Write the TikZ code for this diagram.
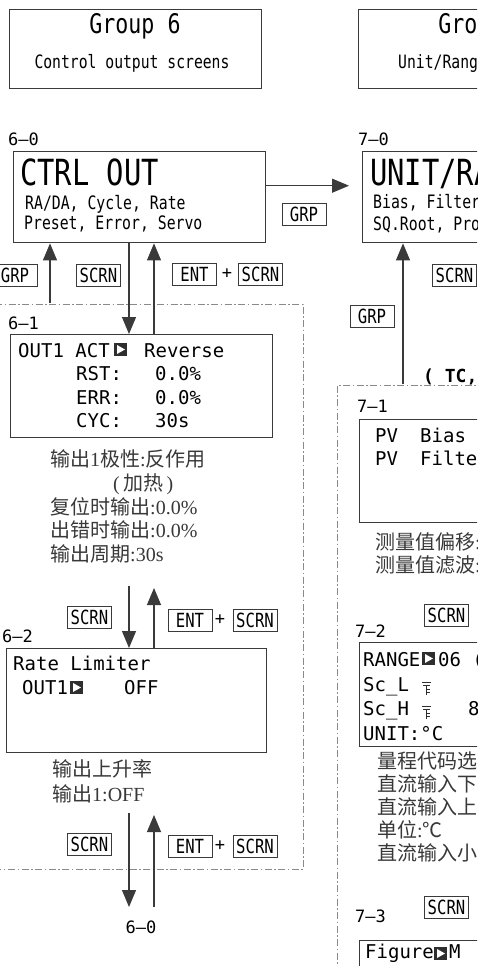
\documentclass[tikz,border=0pt]{standalone}
\usepackage{fontspec}
\setmainfont{Liberation Serif}
\newfontfamily\lcd{DejaVu Sans Mono}
\newfontfamily\lcdn[FakeStretch=0.8]{DejaVu Sans Mono}
\newfontfamily\cjk{Noto Sans CJK SC}
\usetikzlibrary{arrows.meta,positioning}
\definecolor{ink}{HTML}{2E2E2E}
\definecolor{edge}{HTML}{3A3A3A}
\definecolor{chain}{HTML}{8A8A8A}

\begin{document}
\begin{tikzpicture}[
  x=1pt, y=-1pt,
  screen/.style={draw=edge, line width=1.4pt, anchor=north west, inner sep=0pt},
  head/.style={anchor=base, inner sep=0pt, font=\lcdn\fontsize{27}{27}\selectfont},
  sub/.style={anchor=base, inner sep=0pt, font=\lcdn\fontsize{18.4}{18}\selectfont},
  tag/.style={anchor=base west, inner sep=0pt, font=\lcd\fontsize{17}{17}\selectfont},
  big/.style={anchor=base west, inner sep=0pt, font=\lcdn\fontsize{36}{36}\selectfont},
  note/.style={anchor=base west, inner sep=0pt, font=\lcdn\fontsize{18.5}{18}\selectfont},
  lcdline/.style={anchor=base west, inner sep=0pt, font=\lcd\fontsize{19}{19}\selectfont},
  zh/.style={anchor=base west, inner sep=0pt, text=black!78, font=\fontsize{20}{20}\selectfont},
  key/.style={draw=edge, line width=0.8pt, inner xsep=2pt, inner ysep=0pt,
              minimum width=44pt, minimum height=22pt,
              font=\lcdn\fontsize{19.5}{19.5}\selectfont},
  plus/.style={inner sep=0pt, font=\lcd\fontsize{17}{17}\selectfont},
  arrow/.style={draw=edge, line width=1.2pt, -{Triangle[length=17pt,width=14pt]}},
  chainline/.style={draw=chain, line width=0.9pt,
                    dash pattern=on 7pt off 2.5pt on 1.5pt off 2.5pt},
  cursor/.pic={\fill[ink] (0,0) rectangle (13,13);
               \fill[white] (3,2) -- (11,6.5) -- (3,11) -- cycle;},
  probe/.pic={\draw[ink, line width=0.9pt] (0,0) -- (9,0) (1,3) -- (8,3)
               (4.5,3) -- (4.5,13) (4.5,7) -- (7.5,7) (4.5,10) -- (7.5,10);}
]
\useasboundingbox (0,0) rectangle (477,966);
\clip (0,0) rectangle (477,966);

% Group headers
\node[screen, minimum width=252pt, minimum height=79pt] (g6) at (9,9) {};
\node[head] (g6h) at (135,34) {Group 6};
\node[sub]  (g6s) at (132,69) {Control output screens};
\node[screen, minimum width=252pt, minimum height=79pt] (g7) at (358,9) {};
\node[head] (g7h) at (484,34) {Group 7};
\node[sub]  (g7s) at (478,69) {Unit/Range screens};

% Group boundaries
\draw[chainline] (-5,304) -| (303,869) -- (-5,869);
\draw[chainline] (485,385) -| (337,975);

% 6-0
\node[tag] (l60) at (8,145) {6–0};
\node[screen, minimum width=252pt, minimum height=91pt] (s60) at (13,151) {};
\node[big]  (s60a) at (20,185) {CTRL OUT};
\node[note] (s60b) at (25,209) {RA/DA, Cycle, Rate};
\node[note] (s60c) at (24,229) {Preset, Error, Servo};

% 7-0
\node[tag] (l70) at (358,145) {7–0};
\node[screen, minimum width=252pt, minimum height=91pt] (s70) at (362,151) {};
\node[big]  (s70a) at (370,185) {UNIT/RANGE};
\node[note] (s70b) at (373,208) {Bias, Filter};
\node[note] (s70c) at (373,230) {SQ.Root, Pro};

% 6-1
\node[tag] (l61) at (8,329) {6–1};
\node[screen, minimum width=262pt, minimum height=103pt] (s61) at (10,334) {};
\node[lcdline] (s61a) at (18,357) {OUT1 ACT};
\pic at (114,343) {cursor};
\node[lcdline] (s61b) at (144,357) {Reverse};
\foreach \k/\v/\y in {RST:/0.0\%/380, ERR:/0.0\%/404, CYC:/30s/427} {
  \node[lcdline] (s61k\y) at (76,\y) {\k};
  \node[lcdline] (s61v\y) at (155,\y) {\v};
}
\node[zh] (z61a) at (50,466) {{\cjk 输出}1{\cjk 极性}:{\cjk 反作用}};
\node[zh] (z61b) at (113,490) {(\,{\cjk 加热}\,)};
\node[zh] (z61c) at (50,514) {{\cjk 复位时输出}:0.0\%};
\node[zh] (z61d) at (50,537) {{\cjk 出错时输出}:0.0\%};
\node[zh] (z61e) at (50,561) {{\cjk 输出周期}:30s};

% 6-2
\node[tag] (l62) at (2,642) {6–2};
\node[screen, minimum width=260pt, minimum height=104pt] (s62) at (6,648) {};
\node[lcdline] (s62a) at (13,670) {Rate Limiter};
\node[lcdline] (s62b) at (22,694) {OUT1};
\pic at (70,681) {cursor};
\node[lcdline] (s62c) at (124,694) {OFF};
\node[zh] (z62a) at (52,776) {\cjk 输出上升率};
\node[zh] (z62b) at (52,801) {{\cjk 输出}1:OFF};

% 7-1
\node[tag] (l71) at (357,412) {7–1};
\node[screen, minimum width=262pt, minimum height=103pt] (s71) at (359,419) {};
\node[lcdline] (s71a) at (375,442) {PV};
\node[lcdline] (s71b) at (420,442) {Bias};
\node[lcdline] (s71c) at (375,465) {PV};
\node[lcdline] (s71d) at (420,465) {Filter};
\node[zh] (z71a) at (375,549) {{\cjk 测量值偏移}:};
\node[zh] (z71b) at (375,572) {{\cjk 测量值滤波}:};

% 7-2
\node[tag] (l72) at (355,637) {7–2};
\node[screen, minimum width=262pt, minimum height=104pt] (s72) at (359,642) {};
\node[lcdline] (s72a) at (363,666) {RANGE};
\pic at (422,652) {cursor};
\node[lcdline] (s72b) at (438,666) {06 (};
\node[lcdline] (s72c) at (363,691) {Sc\_L};
\pic at (422,682) {probe};
\node[lcdline] (s72d) at (363,715) {Sc\_H};
\pic at (422,706) {probe};
\node[lcdline] (s72e) at (468,715) {8};
\node[lcdline] (s72f) at (363,740) {UNIT:°C};
\node[zh] (z72a) at (377,768) {\cjk 量程代码选};
\node[zh] (z72b) at (377,791) {\cjk 直流输入下};
\node[zh] (z72c) at (377,814) {\cjk 直流输入上};
\node[zh] (z72d) at (377,837) {{\cjk 单位}:{\cjk ℃}};
\node[zh] (z72e) at (377,860) {\cjk 直流输入小};

% 7-3
\node[tag] (l73) at (355,922) {7–3};
\node[screen, minimum width=262pt, minimum height=60pt] (s73) at (359,940) {};
\node[lcdline] (s73a) at (365,958) {Figure};
\pic at (434,947) {cursor};
\node[lcdline] (s73b) at (449,958) {M};

% Keys
\node[key] (k1) at (15,275) {GRP};
\node[key] (k2) at (98.5,275) {SCRN};
\node[key] (k3) at (194.5,274) {ENT};
\node[plus] (p1) at (227,274) {+};
\node[key] (k4) at (260.5,274) {SCRN};
\node[key] (k5) at (304,214) {GRP};
\node[key] (k6) at (454.5,275) {SCRN};
\node[key] (k7) at (372,316) {GRP};
\node[lcdline, font=\lcd\bfseries\fontsize{18}{18}\selectfont] (tc) at (423,382) {( TC,};
\node[key] (k8) at (89.5,617) {SCRN};
\node[key] (k9) at (190,620) {ENT};
\node[plus] (p2) at (220,620) {+};
\node[key] (k10) at (255,620) {SCRN};
\node[key] (k11) at (89.5,844) {SCRN};
\node[key] (k12) at (190,846) {ENT};
\node[plus] (p3) at (220,846) {+};
\node[key] (k13) at (255,846) {SCRN};
\node[key] (k14) at (446.5,615) {SCRN};
\node[key] (k15) at (446.5,907) {SCRN};
\node[tag, anchor=base] (back) at (141,933) {6–0};

% Connector ends
\coordinate (cA) at (129,0);
\coordinate (cB) at (154,0);
\coordinate (g6in) at (50,303);
\coordinate (g7in) at (403,384);
\coordinate (u1) at (129,586);
\coordinate (u2) at (154,588);
\coordinate (d1) at (129,813);
\coordinate (d2) at (154,815);
\coordinate (e1) at (129,907);
\coordinate (e2) at (154,907);

% Key flow
\draw[arrow, shorten >=13pt] ([yshift=11.5pt]s60.east) -- ([yshift=11.5pt]s70.west);
\draw[arrow] (g6in) -- (s60.south -| g6in);
\draw[arrow] (s60.south -| cA) -- (s61.north -| cA);
\draw[arrow] (s61.north -| cB) -- (s60.south -| cB);
\draw[arrow] (u1) -- (s62.north -| u1);
\draw[arrow] (s62.north -| u2) -- (u2);
\draw[arrow] (d1) -- (e1);
\draw[arrow] (e2) -- (d2);
\draw[arrow] (g7in) -- (s70.south -| g7in);

\end{tikzpicture}
\end{document}
